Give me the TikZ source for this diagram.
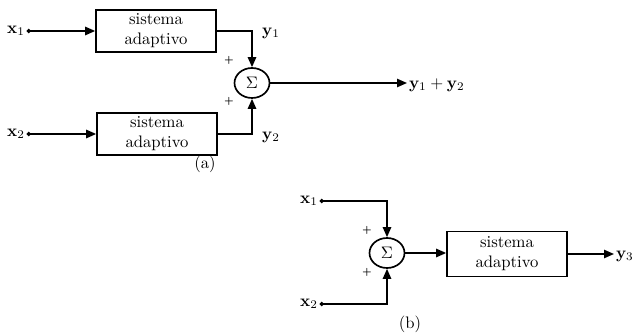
\documentclass[tikz,border=0pt]{standalone}
\usepackage{amsmath,amssymb}
\usepackage{tikz}
\usetikzlibrary{arrows.meta, positioning, shapes.geometric}

\begin{document}
\begin{tikzpicture}[
    x=0.6pt, y=-0.6pt,
    blk/.style={rectangle, draw, line width=1pt, minimum width=72pt,
                  minimum height=25pt, align=center, inner sep=1pt},
    sumc/.style={ellipse, draw, line width=1pt, minimum width=21pt,
                  minimum height=18pt, inner sep=0pt},
    arr/.style={-{Triangle[length=6pt, width=5pt]}, line width=1pt},
    inarr/.style={{Circle[length=2.4pt]}-{Triangle[length=6pt, width=5pt]}, line width=1pt},
    sig/.style={inner sep=1pt},
    plus/.style={font=\tiny\bfseries, inner sep=0pt}
  ]
    \useasboundingbox (0,0) rectangle (634,334);

    % (a)
    \node[blk] (blkA) at (156,31) {sistema\\adaptivo};
    \node[blk] (blkB) at (157,134) {sistema\\adaptivo};
    \node[sumc] (sumA) at (252,83) {$\Sigma$};
    \node[sig] (xa1) at (16,31) {$\mathbf{x}_1$};
    \node[sig] (xa2) at (16,134) {$\mathbf{x}_2$};
    \node[sig] (ya1) at (271,33) {$\mathbf{y}_1$};
    \node[sig] (ya2) at (271,137) {$\mathbf{y}_2$};
    \node[sig, anchor=west] (ysum) at (407,85) {$\mathbf{y}_1+\mathbf{y}_2$};
    \node[plus] at (229,60) {+};
    \node[plus] at (229,101) {+};
    \node (capA) at (205,164) {(a)};

    \draw[inarr] (xa1) -- (blkA);
    \draw[inarr] (xa2) -- (blkB.west |- xa2);
    \draw[arr] (blkA.east) -| (sumA.north);
    \draw[arr] (blkB.east) -| (sumA.south);
    \draw[arr] (sumA) -- (sumA -| ysum.west);

    % (b)
    \node[sig] (xb1) at (309,201) {$\mathbf{x}_1$};
    \node[sig] (xb2) at (309,304) {$\mathbf{x}_2$};
    \node[sumc] (sumB) at (387,253) {$\Sigma$};
    \node[blk, minimum height=27pt] (blkC) at (507,254) {sistema\\adaptivo};
    \node[sig, anchor=west] (yb3) at (614,256) {$\mathbf{y}_3$};
    \node[plus] at (367,230) {+};
    \node[plus] at (367,272) {+};
    \node (capB) at (410,324) {(b)};

    \draw[inarr] (xb1) -| (sumB.north);
    \draw[inarr] (xb2) -| (sumB.south);
    \draw[arr] (sumB) -- (sumB -| blkC.west);
    \draw[arr] (blkC) -- (blkC -| yb3.west);
  \end{tikzpicture}
\end{document}
